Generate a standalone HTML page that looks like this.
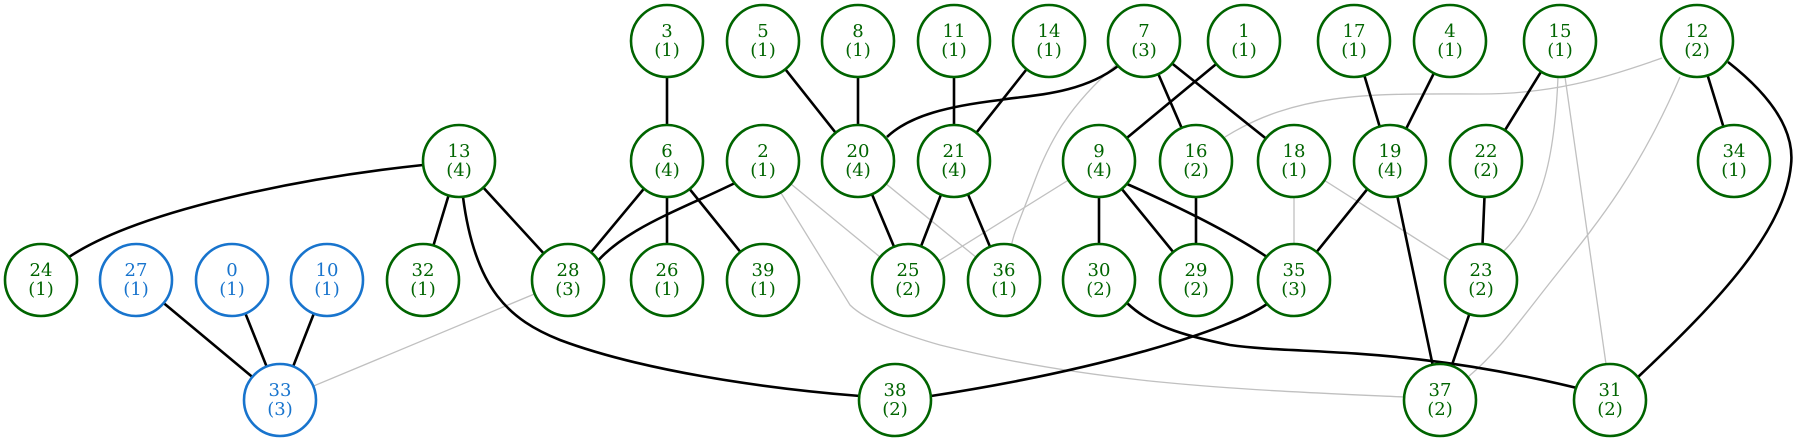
<!DOCTYPE html>
<html><head><meta charset="utf-8"><style>
html,body{margin:0;padding:0;background:#fff;}
svg{display:block;}
text{font-family:"DejaVu Serif","Liberation Serif",serif;font-size:18px;text-anchor:middle;}
.g circle{fill:#fff;stroke:#006400;stroke-width:2.6;}
.g text{fill:#006400;}
.b circle{fill:#fff;stroke:#1874cd;stroke-width:2.6;}
.b text{fill:#1874cd;}
.k{stroke:#000;stroke-width:2.6;fill:none;}
.l{stroke:#c0c0c0;stroke-width:1.3;fill:none;}
</style></head><body>
<svg width="1797" height="441" viewBox="0 0 1797 441" xmlns="http://www.w3.org/2000/svg">
<!-- grey edges -->
<path class="l" d="M1662,58 C1600,80 1550,94 1480,94 C1380,94 1300,90 1225,137"/>
<path class="l" d="M1680,77 C1640,170 1600,220 1560,270 C1520,320 1500,350 1468,377"/>
<path class="l" d="M1558,77 C1555,150 1545,210 1503,252"/>
<path class="l" d="M1565,77 L1606,364"/>
<path class="l" d="M1116,65 C1070,105 1050,140 1035,180 C1020,220 1010,240 1011,253"/>
<path class="l" d="M763,161 L908,280"/>
<path class="l" d="M781,193 L850,305 Q870,325 940,345 C1100,385 1250,390 1404,397"/>
<path class="l" d="M858,161 L1004,280"/>
<path class="l" d="M1099,161 L908,280"/>
<path class="l" d="M1294,161 L1294,280"/>
<path class="l" d="M1294,161 L1481,280"/>
<path class="l" d="M568,280 L280,400"/>
<!-- black edges -->
<path class="k" d="M667,41 L667,161 M763,41 L858,161 M858,41 L858,161 M954,41 L954,161 M1049,41 L954,161"/>
<path class="k" d="M1144,41 L1196,161 M1144,41 L1294,161 M1244,41 L1099,161 M1354,41 L1390,161 M1450,41 L1390,161 M1560,41 L1486,161 M1697,41 L1734,161"/>
<path class="k" d="M459,161 L423,280 M459,161 L568,280 M667,161 L568,280 M667,161 L667,280 M667,161 L763,280"/>
<path class="k" d="M858,161 L908,280 M954,161 L908,280 M954,161 L1004,280 M1099,161 L1099,280 M1099,161 L1196,280 M1196,161 L1196,280"/>
<path class="k" d="M1390,161 L1294,280 M1390,161 L1440,400 M1486,161 L1481,280 M1481,280 L1440,400"/>
<path class="k" d="M136,280 L280,400 M232,280 L280,400 M327,280 L280,400"/>
<path class="k" d="M1118,66 C1080,95 1030,95 1000,100 C950,106 910,115 887,137"/>
<path class="k" d="M423,165 C300,178 140,210 69,257"/>
<path class="k" d="M463,197 C475,290 510,320 560,340 C640,370 760,388 860,396"/>
<path class="k" d="M735,183 C680,210 620,230 592,268"/>
<path class="k" d="M1127,184 Q1220,225 1267,257"/>
<path class="k" d="M1127,303 C1150,325 1180,335 1230,345 C1300,355 1400,345 1577,388"/>
<path class="k" d="M1267,304 C1230,330 1100,370 931,396"/>
<path class="k" d="M1728,62 C1770,95 1795,130 1791,165 C1785,230 1720,300 1638,377"/>
<!-- nodes -->
<g class="g">
<g><circle cx="667" cy="41" r="36"/><text x="667" y="37">3</text><text x="667" y="56">(1)</text></g>
<g><circle cx="763" cy="41" r="36"/><text x="763" y="37">5</text><text x="763" y="56">(1)</text></g>
<g><circle cx="858" cy="41" r="36"/><text x="858" y="37">8</text><text x="858" y="56">(1)</text></g>
<g><circle cx="954" cy="41" r="36"/><text x="954" y="37">11</text><text x="954" y="56">(1)</text></g>
<g><circle cx="1049" cy="41" r="36"/><text x="1049" y="37">14</text><text x="1049" y="56">(1)</text></g>
<g><circle cx="1144" cy="41" r="36"/><text x="1144" y="37">7</text><text x="1144" y="56">(3)</text></g>
<g><circle cx="1244" cy="41" r="36"/><text x="1244" y="37">1</text><text x="1244" y="56">(1)</text></g>
<g><circle cx="1354" cy="41" r="36"/><text x="1354" y="37">17</text><text x="1354" y="56">(1)</text></g>
<g><circle cx="1450" cy="41" r="36"/><text x="1450" y="37">4</text><text x="1450" y="56">(1)</text></g>
<g><circle cx="1560" cy="41" r="36"/><text x="1560" y="37">15</text><text x="1560" y="56">(1)</text></g>
<g><circle cx="1697" cy="41" r="36"/><text x="1697" y="37">12</text><text x="1697" y="56">(2)</text></g>
<g><circle cx="459" cy="161" r="36"/><text x="459" y="157">13</text><text x="459" y="176">(4)</text></g>
<g><circle cx="667" cy="161" r="36"/><text x="667" y="157">6</text><text x="667" y="176">(4)</text></g>
<g><circle cx="763" cy="161" r="36"/><text x="763" y="157">2</text><text x="763" y="176">(1)</text></g>
<g><circle cx="858" cy="161" r="36"/><text x="858" y="157">20</text><text x="858" y="176">(4)</text></g>
<g><circle cx="954" cy="161" r="36"/><text x="954" y="157">21</text><text x="954" y="176">(4)</text></g>
<g><circle cx="1099" cy="161" r="36"/><text x="1099" y="157">9</text><text x="1099" y="176">(4)</text></g>
<g><circle cx="1196" cy="161" r="36"/><text x="1196" y="157">16</text><text x="1196" y="176">(2)</text></g>
<g><circle cx="1294" cy="161" r="36"/><text x="1294" y="157">18</text><text x="1294" y="176">(1)</text></g>
<g><circle cx="1390" cy="161" r="36"/><text x="1390" y="157">19</text><text x="1390" y="176">(4)</text></g>
<g><circle cx="1486" cy="161" r="36"/><text x="1486" y="157">22</text><text x="1486" y="176">(2)</text></g>
<g><circle cx="1734" cy="161" r="36"/><text x="1734" y="157">34</text><text x="1734" y="176">(1)</text></g>
<g><circle cx="41" cy="280" r="36"/><text x="41" y="276">24</text><text x="41" y="295">(1)</text></g>
<g><circle cx="423" cy="280" r="36"/><text x="423" y="276">32</text><text x="423" y="295">(1)</text></g>
<g><circle cx="568" cy="280" r="36"/><text x="568" y="276">28</text><text x="568" y="295">(3)</text></g>
<g><circle cx="667" cy="280" r="36"/><text x="667" y="276">26</text><text x="667" y="295">(1)</text></g>
<g><circle cx="763" cy="280" r="36"/><text x="763" y="276">39</text><text x="763" y="295">(1)</text></g>
<g><circle cx="908" cy="280" r="36"/><text x="908" y="276">25</text><text x="908" y="295">(2)</text></g>
<g><circle cx="1004" cy="280" r="36"/><text x="1004" y="276">36</text><text x="1004" y="295">(1)</text></g>
<g><circle cx="1099" cy="280" r="36"/><text x="1099" y="276">30</text><text x="1099" y="295">(2)</text></g>
<g><circle cx="1196" cy="280" r="36"/><text x="1196" y="276">29</text><text x="1196" y="295">(2)</text></g>
<g><circle cx="1294" cy="280" r="36"/><text x="1294" y="276">35</text><text x="1294" y="295">(3)</text></g>
<g><circle cx="1481" cy="280" r="36"/><text x="1481" y="276">23</text><text x="1481" y="295">(2)</text></g>
<g><circle cx="895" cy="400" r="36"/><text x="895" y="396">38</text><text x="895" y="415">(2)</text></g>
<g><circle cx="1440" cy="400" r="36"/><text x="1440" y="396">37</text><text x="1440" y="415">(2)</text></g>
<g><circle cx="1610" cy="400" r="36"/><text x="1610" y="396">31</text><text x="1610" y="415">(2)</text></g>
</g>
<g class="b">
<g><circle cx="136" cy="280" r="36"/><text x="136" y="276">27</text><text x="136" y="295">(1)</text></g>
<g><circle cx="232" cy="280" r="36"/><text x="232" y="276">0</text><text x="232" y="295">(1)</text></g>
<g><circle cx="327" cy="280" r="36"/><text x="327" y="276">10</text><text x="327" y="295">(1)</text></g>
<g><circle cx="280" cy="400" r="36"/><text x="280" y="396">33</text><text x="280" y="415">(3)</text></g>
</g>
</svg>
</body></html>
